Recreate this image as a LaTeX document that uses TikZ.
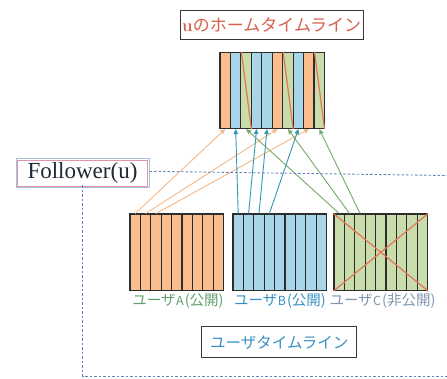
\documentclass[tikz,border=0pt]{standalone}
\usepackage{fontspec}
\newfontfamily\jpfont{Noto Sans CJK JP}
\newfontfamily\followfont{Liberation Serif}
\usetikzlibrary{arrows.meta}

\definecolor{orgfill}{RGB}{250,190,142}
\definecolor{bluefill}{RGB}{168,214,232}
\definecolor{grnfill}{RGB}{201,220,172}
\definecolor{stripeedge}{RGB}{45,45,45}
\definecolor{crossred}{RGB}{226,118,86}
\definecolor{orgline}{RGB}{244,184,138}
\definecolor{blueline}{RGB}{48,150,186}
\definecolor{grnline}{RGB}{118,168,108}
\definecolor{titlered}{RGB}{214,96,76}
\definecolor{labgreen}{RGB}{96,160,110}
\definecolor{labblue}{RGB}{58,145,196}
\definecolor{labgray}{RGB}{128,150,176}
\definecolor{dashblue}{RGB}{98,132,188}
\definecolor{frameedge}{RGB}{60,55,55}
\definecolor{followpink}{RGB}{220,150,165}
\definecolor{followblue}{RGB}{165,195,225}
\definecolor{followtext}{RGB}{30,40,52}

\newcommand{\userletter}[1]{\hspace{0.5pt}{\fontsize{12.5}{14}\selectfont #1}\hspace{1pt}}

\tikzset{
  stripe/.style={draw=stripeedge, line width=1.1pt, minimum width=10.4pt,
    minimum height=76pt, inner sep=0pt},
  toplabel/.style={draw=frameedge, line width=0.9pt, fill=white, inner sep=0pt,
    minimum width=183pt, minimum height=29pt},
  userlabel/.style={font=\jpfont\fontsize{14.5}{16}\selectfont, inner sep=0pt},
  feed/.style={line width=0.9pt, -{Triangle[length=5pt,width=4.5pt]}},
  crossline/.style={draw=crossred, line width=1.2pt},
  groupline/.style={draw=dashblue, line width=0.9pt, dash pattern=on 2.5pt off 2pt}
}

\begin{document}
\begin{tikzpicture}[x=1pt,y=-1pt]
\useasboundingbox (0,0) rectangle (447,379);

% home timeline of u: ten entries
\foreach \i/\c in {1/orgfill,2/bluefill,3/grnfill,4/bluefill,5/bluefill,
                   6/orgfill,7/grnfill,8/bluefill,9/orgfill,10/grnfill}
  \node[stripe, fill=\c] (t\i) at ({220+(\i-0.5)*10.45},90.5) {};
% entries of the private user are struck through
\foreach \i in {3,7,10}
  \draw[crossline] ([xshift=1pt]t\i.north west) -- ([xshift=-0.5pt]t\i.south east);

% user timelines A, B, C
\foreach \i in {1,...,9}{
  \node[stripe, fill=orgfill, minimum height=76.5pt] (a\i) at ({130+(\i-0.5)*10.4},252.3) {};
  \node[stripe, fill=bluefill, minimum height=76.5pt] (b\i) at ({233+(\i-0.5)*10.4},252.3) {};
  \node[stripe, fill=grnfill, minimum height=76.5pt] (c\i) at ({334+(\i-0.5)*10.4},252.3) {};
}
\draw[crossline] (c1.north west) -- (c9.south east);
\draw[crossline] (c9.north east) -- (c1.south west);

% fan-in to the home timeline
\foreach \s/\t in {a1/t1,a2/t6,a3/t9}
  \draw[feed, orgline] (\s.north) -- (\t.south);
\foreach \s/\t in {b1/t2,b2/t4,b3/t5,b4/t8}
  \draw[feed, blueline] (\s.north) -- (\t.south);
\foreach \s/\t in {c1/t3,c2/t7,c3/t10}
  \draw[feed, grnline] (\s.north) -- (\t.south);

% titles
\node[toplabel] (home) at (271.7,24.7)
  {\textcolor{titlered}{\fontsize{17}{19}\selectfont\textbf{u}\jpfont のホームタイムライン}};
\node[toplabel, minimum width=155pt, minimum height=31pt] (utl) at (279.2,342.2)
  {\textcolor{labblue}{\jpfont\fontsize{15.5}{18}\selectfont ユーザタイムライン}};

\node[userlabel, text=labgreen] (la) at (178,300.5) {ユーザ\userletter{A}(公開)};
\node[userlabel, text=labblue] (lb) at (280,300.5) {ユーザ\userletter{B}(公開)};
\node[userlabel, text=labgray] (lc) at (382.5,300.5) {ユーザ\userletter{C}(非公開)};

% follower group
\node[draw=followpink, line width=0.7pt, fill=white, inner sep=0pt,
      minimum width=130.5pt, minimum height=26.5pt,
      font=\followfont\fontsize{23}{26}\selectfont, text=followtext] (follow) at (82.5,173.3) {Follower(u)};
\draw[followblue, line width=0.7pt] ([shift={(-0.9,-0.9)}]follow.north west)
  rectangle ([shift={(0.9,0.9)}]follow.south east);

\coordinate (dashR) at (447,175.5);
\coordinate (cornerR) at (447,376);
\draw[groupline] ([yshift=2pt]follow.east) ++(1.5,0) -- (dashR);
\draw[groupline] ([yshift=1.5pt]follow.south) |- (cornerR);
\end{tikzpicture}
\end{document}
